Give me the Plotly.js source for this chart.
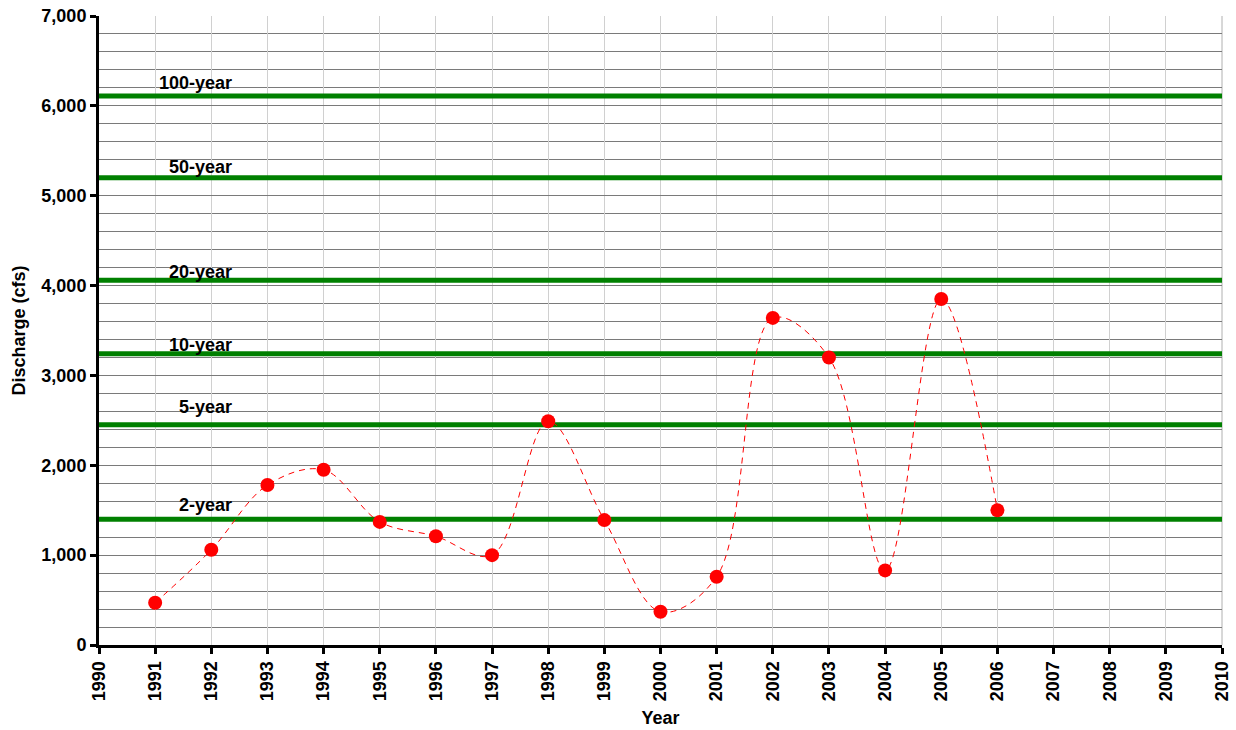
<!DOCTYPE html>
<html>
<head>
<meta charset="utf-8">
<script src="https://cdn.plot.ly/plotly-3.0.1.min.js"></script>
<style>html,body{margin:0;padding:0;background:#fff;}#chart{width:1236px;height:730px;}</style>
</head>
<body>
<div id="chart"></div>
<script>
var years = [1991,1992,1993,1994,1995,1996,1997,1998,1999,2000,2001,2002,2003,2004,2005,2006];
var discharge = [470,1060,1780,1950,1370,1210,1000,2490,1390,370,760,3640,3200,830,3850,1500];

var floodLabels = ['100-year','50-year','20-year','10-year','5-year','2-year'];
var floodValues = [6110,5200,4060,3240,2450,1400];
var floodSpan = [1990,2010];
var labelX = 1992.4;
var labelShift = [1, -1, -4, -3, 6, 2];

var xTicks = [1990,1991,1992,1993,1994,1995,1996,1997,1998,1999,2000,2001,2002,2003,2004,2005,2006,2007,2008,2009,2010];

var font = 'Liberation Sans, Arial, sans-serif';
var traces = [];
floodValues.forEach(function(v, i){
  traces.push({x: floodSpan, y: [v, v], mode: 'lines', line: {color: '#008000', width: 5},
    hoverinfo: 'skip', showlegend: false, cliponaxis: false});
});
traces.push({x: years, y: discharge, mode: 'lines+markers',
  line: {color: '#ff0000', width: 1, dash: '6px,5px', shape: 'spline', smoothing: 1},
  marker: {color: '#ff0000', size: 14}, showlegend: false});

var annotations = floodLabels.map(function(t, i){
  return {x: labelX, y: floodValues[i], xref: 'x', yref: 'y', text: '<b>' + t + '</b>',
    showarrow: false, xanchor: 'right', yanchor: 'bottom', yshift: labelShift[i],
    font: {family: font, size: 18, color: '#000'}};
});

var layout = {
  width: 1236, height: 730,
  margin: {l: 99, r: 14, t: 16, b: 85},
  paper_bgcolor: '#fff', plot_bgcolor: '#fff',
  showlegend: false,
  font: {family: font, color: '#000'},
  xaxis: {
    range: [1990, 2010], tickvals: xTicks, ticktext: xTicks.map(String), tickangle: -90,
    showgrid: true, gridcolor: '#d0d0d0', gridwidth: 1,
    showline: true, linecolor: '#000', linewidth: 3,
    ticks: 'outside', ticklen: 6, tickwidth: 3, tickcolor: '#000',
    tickfont: {family: font, size: 18, color: '#000', weight: 'bold'},
    zeroline: false,
    title: {text: '<b>Year</b>', font: {family: font, size: 18, color: '#000'}, standoff: 12}
  },
  yaxis: {
    range: [0, 7000], dtick: 1000, tickformat: ',d',
    showgrid: true, gridcolor: '#7a7a7a', gridwidth: 1,
    minor: {dtick: 200, showgrid: true, gridcolor: '#7a7a7a', gridwidth: 1, ticks: ''},
    showline: true, linecolor: '#000', linewidth: 3,
    ticks: 'outside', ticklen: 6, tickwidth: 3, tickcolor: '#000',
    tickfont: {family: font, size: 18, color: '#000', weight: 'bold'},
    zeroline: false,
    title: {text: '<b>Discharge (cfs)</b>', font: {family: font, size: 18, color: '#000'}, standoff: 12}
  },
  shapes: [{type: 'line', xref: 'paper', yref: 'paper', x0: 1, x1: 1, y0: 0, y1: 1,
    line: {color: '#b0b0b0', width: 1}, layer: 'below'}],
  annotations: annotations
};

Plotly.newPlot('chart', traces, layout, {displayModeBar: false, staticPlot: true});
</script>
</body>
</html>
